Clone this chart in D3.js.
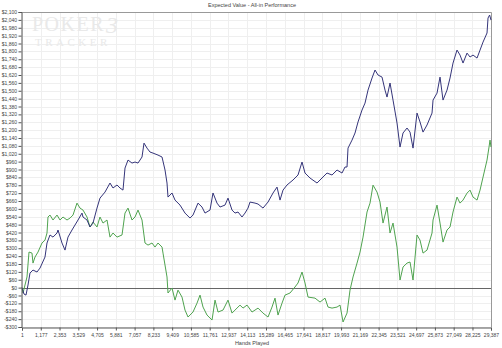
<!DOCTYPE html>
<html><head><meta charset="utf-8">
<script src="https://cdn.jsdelivr.net/npm/d3@7/dist/d3.min.js"></script>
<style>
html,body{margin:0;padding:0;background:#fff;}
svg{display:block;font-family:"Liberation Sans",Arial,sans-serif;}
</style></head>
<body>
<svg id="chart" width="502" height="348"></svg>
<script>
const chartTitle = "Expected Value - All-in Performance";
const xTitle = "Hands Played";
const xTicks = [1,1177,2353,3529,4705,5881,7057,8233,9409,10585,11761,12937,14113,15289,16465,17641,18817,19993,21169,22345,23521,24697,25873,27049,28225,29387];
const yTicks = d3.range(-300, 2101, 60);

// Blue series (all-in expected value)
const evHands = [1,126,252,377,502,690,941,1129,1442,1568,1755,1943,2194,2257,2507,2695,2883,3134,3510,3761,3823,4074,4262,4450,4700,4888,5202,5515,5703,5954,6141,6329,6455,6643,6894,7082,7270,7520,7646,7834,8022,8210,8523,8774,8962,9087,9149,9400,9588,9901,10215,10528,10716,11029,11280,11468,11781,11969,12220,12408,12721,12909,13160,13348,13536,13786,13974,14162,14288,14601,14789,15102,15416,15729,15980,16168,16356,16606,16982,17295,17546,17734,18047,18486,18674,18862,19113,19426,19740,20053,20241,20366,20429,20679,20867,21055,21306,21494,21682,21932,22120,22308,22559,22747,22872,23060,23248,23499,23687,23875,24125,24313,24501,24752,24940,25128,25378,25692,25755,26005,26193,26381,26632,26820,27008,27258,27446,27634,27885,28073,28261,28512,28700,28888,29138,29201,29300,29387];
const evValues = [0,-49,-57,20,111,134,119,149,233,340,401,385,416,439,340,286,385,439,515,568,538,515,462,492,606,682,728,797,759,782,759,743,911,972,949,957,949,995,1101,1063,1033,1025,1010,995,896,797,690,721,667,629,568,530,553,644,614,568,591,721,644,614,629,682,591,568,576,538,568,606,652,644,637,606,652,721,766,667,743,782,820,858,957,873,835,797,820,843,873,858,896,873,919,919,1063,1124,1178,1262,1353,1406,1505,1597,1658,1620,1604,1505,1452,1559,1429,1254,1071,1178,1216,1185,1063,1330,1262,1185,1239,1330,1429,1482,1604,1429,1505,1597,1711,1810,1772,1711,1787,1757,1772,1749,1810,1871,1940,2054,2077,2039];

// Green series (actual winnings)
const wonHands = [1,64,314,440,628,690,816,1004,1254,1442,1568,1630,1755,1943,2194,2382,2570,2821,3009,3197,3447,3635,3823,4074,4262,4450,4700,4888,5076,5327,5515,5703,5954,6267,6455,6643,6894,7082,7270,7520,7708,7896,8147,8335,8523,8774,8836,9087,9149,9400,9588,9776,10027,10215,10403,10716,10967,11155,11343,11593,11907,12095,12283,12596,12909,13160,13348,13661,13849,14100,14413,14601,14789,15102,15416,15666,15854,16042,16293,16481,16794,17107,17295,17546,17734,17922,18361,18674,18987,19175,19426,19740,19928,20116,20366,20554,20742,20993,21181,21369,21619,21807,21995,22246,22434,22622,22872,23060,23248,23499,23687,23875,24125,24313,24501,24752,24940,25128,25378,25692,25755,26005,26193,26381,26632,26820,27008,27258,27446,27634,27885,28073,28261,28512,28700,28888,29138,29263,29326,29387];
const wonValues = [0,-41,81,271,263,187,233,271,340,362,416,538,553,515,553,515,538,515,530,553,644,606,591,538,462,500,462,538,492,515,385,416,385,401,568,606,515,538,591,515,340,324,340,309,340,309,263,81,-41,-3,-95,-19,-72,-171,-224,-186,-118,-57,-148,-209,-247,-95,-186,-171,-95,-194,-171,-133,-156,-133,-186,-171,-156,-194,-224,-148,-80,-209,-118,-57,-41,5,35,119,35,-72,-80,-110,-80,-148,-156,-148,-133,-262,-194,-19,81,187,271,385,576,644,781,728,652,492,614,416,492,309,58,157,187,195,58,401,362,263,286,416,515,629,492,347,439,462,576,690,644,667,720,743,690,667,743,842,972,1071,1124,1071];

const svg = d3.select("#chart");
const x = d3.scaleLinear().domain([1, 29387]).range([22, 491]);
const y = d3.scaleLinear().domain([-300, 2100]).range([327, 12]);

// grid
svg.append("g").selectAll("line").data(yTicks).join("line")
  .attr("x1", 22).attr("x2", 491)
  .attr("y1", d => Math.round(y(d)) + 0.5).attr("y2", d => Math.round(y(d)) + 0.5)
  .attr("stroke", "#efefef").attr("stroke-width", 1);
svg.append("g").selectAll("line").data(xTicks).join("line")
  .attr("x1", d => Math.round(x(d)) + 0.5).attr("x2", d => Math.round(x(d)) + 0.5)
  .attr("y1", 12).attr("y2", 327)
  .attr("stroke", "#efefef").attr("stroke-width", 1);

// watermark
const wm = svg.append("g").attr("fill", "#e9e9e9").attr("font-family", "'Liberation Serif','DejaVu Serif',serif");
wm.append("text").attr("x", 32).attr("y", 31).attr("font-size", 20).attr("letter-spacing", 1.5).text("POKER");
wm.append("text").attr("x", 106).attr("y", 33).attr("font-size", 24).attr("font-style", "italic").text("3");
wm.append("text").attr("x", 35).attr("y", 46).attr("font-size", 11).attr("letter-spacing", 3.5).text("TRACKER");

// border (top/right)
svg.append("path").attr("d", `M22,12.5H491.5V327`).attr("fill", "none").attr("stroke", "#999").attr("stroke-width", 1);

// zero line
svg.append("line").attr("x1", 22).attr("x2", 491)
  .attr("y1", Math.round(y(0)) + 0.5).attr("y2", Math.round(y(0)) + 0.5)
  .attr("stroke", "#666").attr("stroke-width", 1);

// lines
const lineGen = (hs) => d3.line().x((d, i) => x(hs[i])).y(d => y(d));
svg.append("path").datum(wonValues).attr("d", lineGen(wonHands))
  .attr("fill", "none").attr("stroke", "#4fa34f").attr("stroke-width", 1);
svg.append("path").datum(evValues).attr("d", lineGen(evHands))
  .attr("fill", "none").attr("stroke", "#35357a").attr("stroke-width", 1);

// axes
const fmtY = v => (v < 0 ? "-$" : "$") + d3.format(",")(Math.abs(v));
const yAxis = d3.axisLeft(y).tickValues(yTicks).tickFormat(fmtY).tickSize(3).tickPadding(1.5);
const gy = svg.append("g").attr("transform", "translate(21.5,0)").call(yAxis);
const xAxis = d3.axisBottom(x).tickValues(xTicks).tickFormat(d3.format(",")).tickSize(3).tickPadding(3);
const gx = svg.append("g").attr("transform", "translate(0,327.5)").call(xAxis);
[gy, gx].forEach(g => {
  g.attr("font-family", "'Liberation Sans',Arial,sans-serif");
  g.select(".domain").attr("stroke", "#555");
  g.selectAll(".tick line").attr("stroke", "#555");
  g.selectAll(".tick text").attr("fill", "#444").attr("font-size", 5);
});

// titles
svg.append("text").attr("x", 252).attr("y", 7).attr("text-anchor", "middle")
  .attr("font-size", 5.5).attr("fill", "#444").text(chartTitle);
svg.append("text").attr("x", 252).attr("y", 345).attr("text-anchor", "middle")
  .attr("font-size", 5.5).attr("fill", "#444").text(xTitle);
</script>
</body></html>
